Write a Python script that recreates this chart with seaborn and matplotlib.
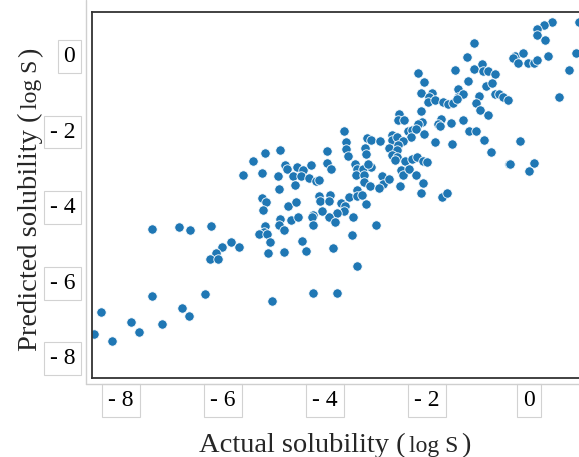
import numpy as np
import pandas as pd
import matplotlib
matplotlib.use("Agg")
import matplotlib.pyplot as plt
import seaborn as sns
from matplotlib.lines import Line2D

# Values (log S)
actual = [
    -7.39, -6.86, -6.64, -6.24, -5.84, -5.69, -6.02, -6.14, -6.25, -6.09,
    -6.35, -7.39, -6.80, -6.67, -8.39, -7.80, -7.65, -7.20, -8.54, -8.17,
    -3.62, -3.59, -3.59, -3.54, -3.96, -3.96, -3.88, -3.41, -3.38, -3.39,
    -4.88, -5.18, -5.41, -4.79, -4.74, -4.55, -4.43, -4.28, -4.63, -4.47,
    -4.32, -4.18, -4.11, -5.61, -5.24, -4.93, -4.59, -4.90, -3.38, -3.52,
    -3.38, -4.12, -4.10, -3.90, -3.93, -3.69, -3.61, -3.63, -3.77, -3.93,
    -4.06, -4.23, -4.25, -4.23, -3.80, -3.45, -3.47, -5.24, -5.16, -5.21,
    -4.73, -4.57, -4.67, -4.52, -4.88, -4.90, -4.80, -5.18, -5.19, -5.29,
    -5.14, -5.07, -5.11, -4.80, -4.45, -4.37, -3.84, -3.37, -4.24, -3.77,
    -5.03, -2.99, -3.19, -2.18, -1.45, -2.06, -1.19, -2.12, -1.90, -1.96,
    -1.39, -1.39, -1.29, -1.97, -1.84, -1.69, -1.59, -1.48, -1.41, -2.54,
    -2.57, -2.45, -2.11, -2.10, -2.18, -1.73, -1.78, -1.75, -1.52, -1.30,
    -1.18, -2.38, -2.30, -2.21, -2.32, -2.05, -1.84, -1.50, -3.18, -3.10,
    -2.92, -3.22, -3.20, -2.69, -2.69, -2.59, -2.47, -2.74, -2.57, -2.59,
    -2.69, -2.59, -2.63, -2.44, -2.29, -2.20, -2.08, -2.00, -2.51, -2.47,
    -2.35, -2.22, -2.07, -2.52, -2.12, -1.71, -1.61, -3.26, -3.24, -3.09,
    -3.15, -3.24, -3.12, -2.88, -2.87, -2.94, -2.74, -3.28, 0.46, 0.29,
    0.15, 0.15, 0.31, 0.98, -1.08, -1.21, -0.27, -0.31, -0.12, -0.22,
    -0.01, 0.10, 0.15, 0.38, 0.92, 0.78, 0.60, -1.07, -0.92, -0.91,
    -0.80, -0.66, -0.85, -0.73, -0.98, -1.04, -0.67, -0.58, -0.50, -0.41,
    -0.96, -0.80, -1.03, -0.88, -0.75, -0.18, -0.40, -0.37, 0.10, 0.01,
]
predicted = [
    -4.64, -4.59, -4.67, -4.56, -4.99, -5.11, -5.12, -5.26, -5.44, -5.44,
    -6.36, -6.42, -6.73, -6.94, -6.84, -7.10, -7.36, -7.15, -7.40, -7.60,
    -2.04, -2.32, -2.52, -2.71, -2.57, -2.88, -3.05, -2.90, -3.05, -3.21,
    -2.55, -2.63, -2.83, -2.94, -3.05, -2.99, -3.07, -2.95, -3.22, -3.23,
    -3.29, -3.36, -3.34, -3.21, -3.16, -3.23, -3.46, -3.58, -3.61, -3.78,
    -3.75, -3.75, -3.88, -3.73, -3.90, -3.94, -4.02, -4.15, -4.20, -4.31,
    -4.15, -4.25, -4.31, -4.54, -4.46, -4.31, -4.78, -3.80, -3.91, -4.13,
    -4.03, -3.93, -4.40, -4.31, -4.36, -4.53, -4.67, -4.56, -4.71, -4.76,
    -4.77, -4.97, -5.28, -5.25, -4.95, -5.22, -5.13, -5.62, -6.32, -6.32,
    -6.54, -4.54, -3.98, -0.49, -0.42, -0.74, -0.72, -1.03, -1.02, -1.13,
    -0.92, -1.15, -1.05, -1.27, -1.22, -1.27, -1.32, -1.29, -1.20, -1.59,
    -1.76, -1.76, -1.52, -1.80, -1.85, -1.72, -1.85, -1.91, -1.82, -1.75,
    -2.05, -2.03, -2.01, -1.99, -2.19, -2.12, -2.32, -2.38, -2.22, -2.28,
    -2.31, -2.49, -2.66, -2.14, -2.27, -2.20, -2.31, -2.49, -2.41, -2.53,
    -2.68, -2.74, -2.81, -2.83, -2.79, -2.74, -2.82, -2.86, -3.07, -3.20,
    -3.05, -3.21, -3.41, -3.50, -3.69, -3.78, -3.68, -3.05, -3.21, -2.99,
    -2.90, -3.40, -3.50, -3.23, -3.43, -3.54, -3.32, -3.74, 0.86, 0.77,
    0.67, 0.50, 0.37, 0.84, 0.28, -0.09, -0.05, -0.11, 0.02, -0.25,
    -0.23, -0.23, -0.16, -0.05, 0.02, -0.42, -1.13, -0.41, -0.26, -0.45,
    -0.46, -0.52, -0.84, -0.77, -1.11, -1.30, -1.05, -1.07, -1.13, -1.21,
    -1.48, -1.61, -2.04, -2.28, -2.60, -2.30, -2.92, -2.91, -2.88, -3.11,
]
tick_values = [-8, -6, -4, -2, 0]
tick_labels = ["- 8", "- 6", "- 4", "- 2", "0"]

df = pd.DataFrame({"Actual": actual, "Predicted": predicted})

sns.set_style("white")
plt.rcParams["font.family"] = ["Liberation Serif", "DejaVu Serif"]

W, H = 579, 457
fig = plt.figure(figsize=(W / 100, H / 100), dpi=100)
# axes runs a little past the right edge, like the cropped original
ax = fig.add_axes([92 / W, 1 - 377.7 / H, 494 / W, 366 / H])

sns.scatterplot(data=df, x="Actual", y="Predicted", ax=ax, s=46,
                color="#1f77b4", edgecolor="white", linewidth=0.6)

ax.set_xlim(-8.57, 1.12)
ax.set_ylim(-8.57, 1.12)
ax.set_xticks(tick_values)
ax.set_xticklabels(tick_labels)
ax.set_yticks(tick_values)
ax.set_yticklabels(tick_labels)
ax.set_xlabel("")
ax.set_ylabel("")

for sp in ax.spines.values():
    sp.set_color("#333333")
    sp.set_linewidth(1.3)
ax.tick_params(axis="both", direction="out", length=3.6, width=1,
               color="#333333", labelsize=17, labelcolor="black")
ax.tick_params(axis="x", pad=5.5)
ax.tick_params(axis="y", pad=8.5)

box = dict(boxstyle="square,pad=0.25", fc="white", ec="#d2d2d2", lw=0.8)
for t in ax.get_xticklabels() + ax.get_yticklabels():
    t.set_bbox(box)

# faint outer frame
fig.add_artist(Line2D([86 / W, 86 / W], [1, 1 - 384 / H],
                      transform=fig.transFigure, color="#cfcfcf", lw=1))
fig.add_artist(Line2D([86 / W, 1], [1 - 384 / H, 1 - 384 / H],
                      transform=fig.transFigure, color="#cfcfcf", lw=1))


# axis labels with a smaller "log S" part
def mixed_label(pieces, center, base, vertical=False, gap=3):
    renderer = fig.canvas.get_renderer()
    texts, lengths = [], []
    for s, size in pieces:
        t = fig.text(0, 0, s, fontsize=size, rotation=90 if vertical else 0,
                     rotation_mode="anchor", ha="left", va="baseline")
        bb = t.get_window_extent(renderer)
        texts.append(t)
        lengths.append(bb.height if vertical else bb.width)
    total = sum(lengths) + gap * (len(pieces) - 1)
    pos = center - total / 2
    for t, n in zip(texts, lengths):
        if vertical:
            t.set_position((base / W, pos / H))
        else:
            t.set_position((pos / W, base / H))
        pos += n + gap


mixed_label([("Actual solubility (", 20.5), ("log S", 17), (")", 20.5)],
            center=335, base=457 - 452)
mixed_label([("Predicted solubility (", 20.5), ("log S", 17), (")", 20.5)],
            center=457 - 199, base=37, vertical=True)

fig.savefig("out.png", dpi=100)
